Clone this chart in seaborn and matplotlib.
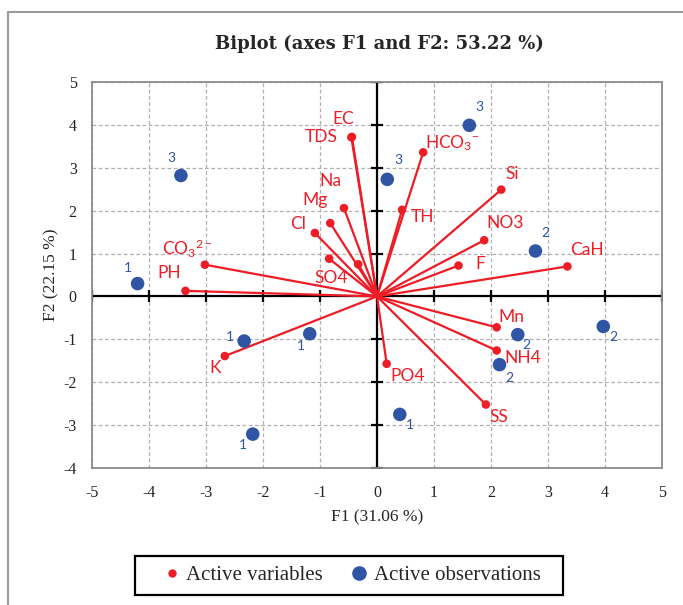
import matplotlib
matplotlib.use("Agg")
import matplotlib.pyplot as plt
import seaborn as sns
import pandas as pd
from matplotlib.lines import Line2D
from matplotlib.patches import Rectangle

# ---- data ----
var_names = ["EC", "TDS", "Na", "Mg", "Cl", "SO4", "", "CO$_3$$^{2-}$", "PH",
             "HCO$_3$$^{-}$", "TH", "Si", "NO3", "F", "CaH", "K", "Mn", "NH4", "PO4", "SS"]
var_f1 = [-0.44, -0.45, -0.58, -0.82, -1.09, -0.84, -0.33, -3.02, -3.36,
          0.81, 0.44, 2.18, 1.88, 1.43, 3.34, -2.67, 2.10, 2.10, 0.17, 1.91]
var_f2 = [3.72, 3.71, 2.06, 1.71, 1.48, 0.88, 0.75, 0.74, 0.13,
          3.36, 2.02, 2.49, 1.31, 0.72, 0.70, -1.39, -0.72, -1.26, -1.57, -2.52]

obs_labels = ["3", "1", "3", "3", "2", "1", "1", "1", "2", "2", "2", "1"]
obs_f1 = [-3.44, -4.20, 1.62, 0.18, 2.78, -2.33, -1.18, -2.18, 2.47, 3.97, 2.15, 0.40]
obs_f2 = [2.82, 0.30, 3.99, 2.73, 1.06, -1.04, -0.87, -3.21, -0.89, -0.70, -1.59, -2.75]

ticks_x = [-5, -4, -3, -2, -1, 0, 1, 2, 3, 4, 5]
ticks_y = [-4, -3, -2, -1, 0, 1, 2, 3, 4, 5]

# label offsets (pixels, y up) – styling only
var_off = [(-9, 18), (-30, 0), (-14, 27), (-15, 23), (-17, 9), (2, -19), (0, 0), (-18, 16), (-16, 18),
           (29, 9), (20, -7), (11, 16), (21, 17), (22, 2), (20, 16), (-10, -12), (15, 10), (26, -8), (21, -12), (13, -12)]
obs_off = [(-10, 17), (-10, 16), (10, 18), (11, 19), (10, 18), (-14, 4), (-9, -12), (-10, -11),
           (9, -10), (10, -11), (10, -13), (10, -11)]

RED = "#EE1C25"
BLUE = "#2F55A4"

sns.set_style("white")
plt.rcParams["font.family"] = ["Liberation Serif", "DejaVu Serif"]
plt.rcParams["axes.unicode_minus"] = False
plt.rcParams["mathtext.fontset"] = "custom"
plt.rcParams["mathtext.rm"] = "Lato"
plt.rcParams["mathtext.it"] = "Lato"

fig = plt.figure(figsize=(6.83, 6.05), dpi=100)
ax = fig.add_axes([92 / 683, 1 - 468 / 605, 570 / 683, 386 / 605])

ax.set_xlim(-5, 5)
ax.set_ylim(-4, 5)
ax.set_xticks(ticks_x)
ax.set_yticks(ticks_y)
ax.grid(True, color="#b0b0b0", linestyle=(0, (3, 2)), linewidth=0.9)
ax.set_axisbelow(True)
for s in ax.spines.values():
    s.set_color("#8c8c8c")
    s.set_linewidth(1.3)
ax.tick_params(axis="both", length=0, labelsize=11.5, colors="#222222")
ax.tick_params(axis="x", pad=12)
ax.tick_params(axis="y", pad=11)

# zero axes
ax.axhline(0, color="black", lw=1.6, zorder=2)
ax.axvline(0, color="black", lw=1.6, zorder=2)
ax.plot(ticks_x, [0] * len(ticks_x), ls="none", marker="|", ms=8, mew=1.6, color="black", zorder=2)
ax.plot([0] * len(ticks_y), ticks_y, ls="none", marker="_", ms=8, mew=1.6, color="black", zorder=2)

# variable vectors
for x, y in zip(var_f1, var_f2):
    ax.plot([0, x], [0, y], color=RED, lw=1.6, zorder=3, solid_capstyle="round")

df_var = pd.DataFrame({"F1": var_f1, "F2": var_f2})
df_obs = pd.DataFrame({"F1": obs_f1, "F2": obs_f2})
sns.scatterplot(data=df_var, x="F1", y="F2", color=RED, s=38, edgecolor="none", ax=ax, zorder=4)
sns.scatterplot(data=df_obs, x="F1", y="F2", color=BLUE, s=95, edgecolor="none", ax=ax, zorder=4)

for name, x, y, (dx, dy) in zip(var_names, var_f1, var_f2, var_off):
    if not name:
        continue
    ax.annotate(name, (x, y), xytext=(dx, dy), textcoords="offset pixels", ha="center", va="center",
                color=RED, fontsize=12.5, family=["Lato", "DejaVu Sans"], zorder=5)

for name, x, y, (dx, dy) in zip(obs_labels, obs_f1, obs_f2, obs_off):
    ax.annotate(name, (x, y), xytext=(dx, dy), textcoords="offset pixels", ha="center", va="center",
                color=BLUE, fontsize=10, family=["Lato", "DejaVu Sans"], zorder=5)

ax.set_xlabel("F1 (31.06 %)", fontsize=12.5, labelpad=6)
ax.set_ylabel("F2 (22.15 %)", fontsize=12.5, labelpad=3)
fig.text(379 / 683, 1 - 44 / 605, "Biplot (axes F1 and F2: 53.22 %)", ha="center", va="center",
         fontsize=13, fontweight="bold", family=["DejaVu Serif"])

# figure frame (top and left edge)
fig.add_artist(Line2D([8 / 683, 1], [1 - 12 / 605, 1 - 12 / 605], color="#9a9a9a", lw=1.5, transform=fig.transFigure))
fig.add_artist(Line2D([8 / 683, 8 / 683], [0, 1 - 12 / 605], color="#9a9a9a", lw=1.5, transform=fig.transFigure))

# legend box
fig.add_artist(Rectangle((135 / 683, 1 - 595 / 605), 428 / 683, 39 / 605, transform=fig.transFigure,
                         fill=False, edgecolor="black", lw=1.6))
handles = [Line2D([], [], ls="none", marker="o", ms=5, color=RED, label="Active variables"),
           Line2D([], [], ls="none", marker="o", ms=9.5, color=BLUE, label="Active observations")]
leg = fig.legend(handles=handles, loc="center", bbox_to_anchor=(351 / 683, 1 - 575 / 605), ncol=2,
                 frameon=False, fontsize=15, handletextpad=0.2,
                 columnspacing=1.25, borderpad=0.0, handlelength=1.0)

fig.savefig("out.png", dpi=100)
